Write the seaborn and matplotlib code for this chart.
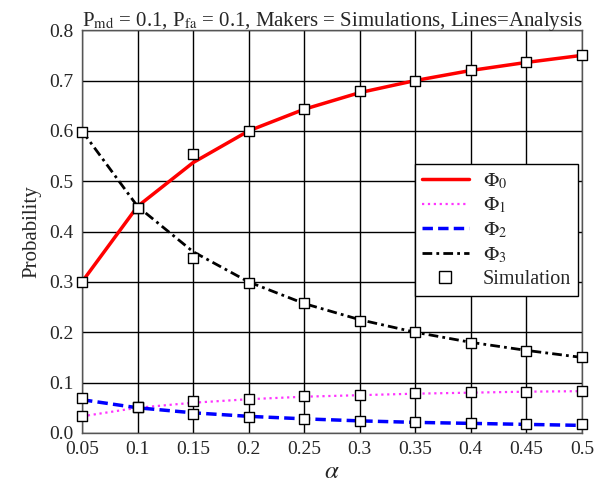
import numpy as np
import pandas as pd
import matplotlib
matplotlib.use("Agg")
import matplotlib.pyplot as plt
from matplotlib.lines import Line2D
import seaborn as sns

# values
alpha = [0.05, 0.1, 0.15, 0.2, 0.25, 0.3, 0.35, 0.4, 0.45, 0.5]

# analysis (lines)
phi0_line = [0.300, 0.450, 0.537, 0.600, 0.643, 0.676, 0.700, 0.720, 0.736, 0.750]
phi1_line = [0.033, 0.050, 0.060, 0.067, 0.072, 0.075, 0.078, 0.080, 0.082, 0.083]
phi2_line = [0.066, 0.050, 0.040, 0.033, 0.028, 0.024, 0.021, 0.019, 0.017, 0.015]
phi3_line = [0.600, 0.450, 0.360, 0.300, 0.257, 0.225, 0.200, 0.180, 0.164, 0.150]

# simulations (markers)
phi0_sim = [0.300, 0.447, 0.555, 0.600, 0.643, 0.679, 0.700, 0.720, 0.737, 0.750]
phi1_sim = [0.034, 0.051, 0.063, 0.068, 0.073, 0.075, 0.079, 0.082, 0.082, 0.084]
phi2_sim = [0.069, 0.051, 0.037, 0.032, 0.027, 0.024, 0.022, 0.019, 0.017, 0.018]
phi3_sim = [0.598, 0.447, 0.347, 0.298, 0.258, 0.222, 0.201, 0.179, 0.163, 0.151]

x_ticks = [0.05, 0.1, 0.15, 0.2, 0.25, 0.3, 0.35, 0.4, 0.45, 0.5]
x_labels = ["0.05", "0.1", "0.15", "0.2", "0.25", "0.3", "0.35", "0.4", "0.45", "0.5"]
y_ticks = [0.0, 0.1, 0.2, 0.3, 0.4, 0.5, 0.6, 0.7, 0.8]
y_labels = ["0.0", "0.1", "0.2", "0.3", "0.4", "0.5", "0.6", "0.7", "0.8"]

sns.set_style("white")
plt.rcParams['font.family'] = ['Liberation Serif', 'DejaVu Serif']
plt.rcParams['mathtext.fontset'] = 'stix'

fig = plt.figure(figsize=(6.03, 4.87), dpi=100)
ax = fig.add_axes([0.136, 0.111, 0.829, 0.827])

styles = [
    (phi0_line, "red", "-", 2.5),
    (phi1_line, "#ff33ff", ":", 1.6),
    (phi2_line, "blue", (0, (3, 1.5)), 2.5),
    (phi3_line, "black", (0, (3.5, 1.5, 1, 1.5)), 2.0),
]
for vals, col, ls, lw in styles:
    sns.lineplot(x=alpha, y=vals, color=col, linestyle=ls, linewidth=lw, ax=ax, zorder=3)

for sim in [phi0_sim, phi1_sim, phi2_sim, phi3_sim]:
    sns.scatterplot(x=alpha, y=sim, marker="s", s=52, facecolor="white",
                    edgecolor="black", linewidth=1.0, ax=ax, zorder=4, clip_on=False)

ax.set_xlim(0.05, 0.5)
ax.set_ylim(0.0, 0.8)
ax.set_xticks(x_ticks)
ax.set_xticklabels(x_labels)
ax.set_yticks(y_ticks)
ax.set_yticklabels(y_labels)
ax.tick_params(labelsize=14, direction="in", length=0, pad=6)
ax.grid(True, color="black", linewidth=1.0)
ax.set_axisbelow(True)
for sp in ax.spines.values():
    sp.set_color("#555555")
    sp.set_linewidth(1.0)

ax.set_xlabel(r"$\alpha$", fontsize=18, labelpad=2)
ax.set_ylabel("Probability", fontsize=15, labelpad=6)
ax.set_title(r"P$_{\mathrm{md}}$ = 0.1, P$_{\mathrm{fa}}$ = 0.1, Makers = Simulations, Lines=Analysis",
             fontsize=15, pad=3)

handles = [
    Line2D([], [], color="red", linestyle="-", linewidth=2.5),
    Line2D([], [], color="#ff33ff", linestyle=":", linewidth=1.6),
    Line2D([], [], color="blue", linestyle=(0, (3, 1.5)), linewidth=2.5),
    Line2D([], [], color="black", linestyle=(0, (3.5, 1.5, 1, 1.5)), linewidth=2.0),
    Line2D([], [], color="black", linestyle="none", marker="s", markersize=8,
           markerfacecolor="white", markeredgewidth=1.0),
]
labels = [r"$\Phi_0$", r"$\Phi_1$", r"$\Phi_2$", r"$\Phi_3$", "Simulation"]
leg = ax.legend(handles, labels, loc="upper right", bbox_to_anchor=(0.992, 0.667),
                fontsize=14.5, handlelength=2.3, fancybox=False, framealpha=1,
                edgecolor="black", borderpad=0.35, labelspacing=0.25, handletextpad=0.7,
                borderaxespad=0)
leg.get_frame().set_linewidth(1.0)

fig.savefig("out.png", dpi=100)
